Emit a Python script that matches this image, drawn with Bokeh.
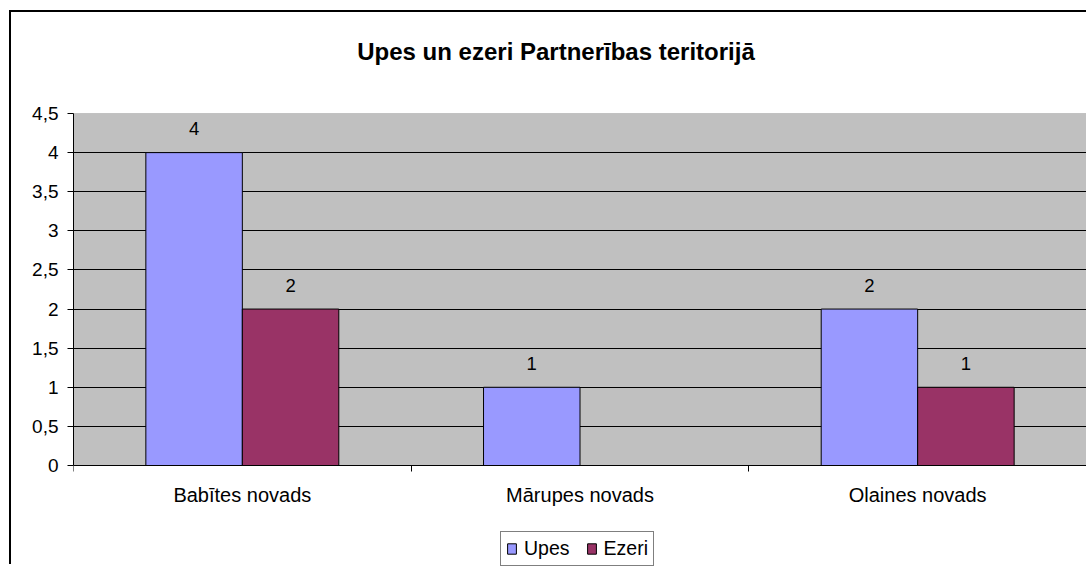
from bokeh.plotting import figure
from bokeh.models import ColumnDataSource, FixedTicker, Legend, LegendItem, BoxAnnotation, Label
from bokeh.core.properties import value
from bokeh.embed import file_html
from bokeh.resources import INLINE
import numpy as np

# ---- data ----
categories = ["Babītes novads", "Mārupes novads", "Olaines novads"]
upes = [4, 1, 2]
ezeri = [2, 0, 1]
series_names = ["Upes", "Ezeri"]
y_ticks = [0, 0.5, 1, 1.5, 2, 2.5, 3, 3.5, 4, 4.5]
y_tick_labels = ["0", "0,5", "1", "1,5", "2", "2,5", "3", "3,5", "4", "4,5"]
title_text = "Upes un ezeri Partnerības teritorijā"

FONT = "Liberation Sans"
C_UPES = "#9999FF"
C_EZERI = "#993366"

idx = np.arange(len(categories))
bw = 1 / 3.5
x_upes = idx + 0.5 - bw / 2
x_ezeri = idx + 0.5 + bw / 2

Y_MAX = y_ticks[-1]
# frame fills the canvas height; the value axis spans 352 px for 0..4.5,
# with 101 px of room below (categories, legend) and above (title)
pad = (101 / 352) * Y_MAX

p = figure(title=None, width=1077, height=554, x_range=(0, len(categories)),
           y_range=(-pad, Y_MAX + pad),
           output_backend="svg", toolbar_location=None,
           min_border_left=62, min_border_right=2, min_border_top=0, min_border_bottom=0)
p.styles = {"border-left": "2px solid black", "border-top": "2px solid black",
            "margin-left": "9px", "margin-top": "10px"}
p.background_fill_color = "white"
p.border_fill_color = "white"
p.outline_line_color = None

# grey plot area
p.add_layout(BoxAnnotation(left=0, right=len(categories), bottom=0, top=Y_MAX,
                           fill_color="#C0C0C0", fill_alpha=1, line_color="#808080",
                           line_width=1, level="image"))

# title
p.add_layout(Label(x=482.5, y=515, x_units="screen", y_units="screen", text=title_text,
                   text_align="center", text_baseline="middle", text_font=FONT,
                   text_font_size="24px", text_font_style="bold", text_color="black"))

src_u = ColumnDataSource(dict(x=x_upes, top=upes, lab=[str(v) if v else "" for v in upes]))
src_e = ColumnDataSource(dict(x=x_ezeri, top=ezeri, lab=[str(v) if v else "" for v in ezeri]))

r_u = p.vbar(x="x", top="top", width=bw, source=src_u, fill_color=C_UPES, line_color="black", line_width=1)
r_e = p.vbar(x="x", top="top", width=bw, source=src_e, fill_color=C_EZERI, line_color="black", line_width=1)

for s in (src_u, src_e):
    p.text(x="x", y="top", text="lab", source=s, text_align="center", text_baseline="alphabetic",
           y_offset=-24, text_font=value(FONT), text_font_size="18.5px", text_color="black")

# y axis
p.yaxis.bounds = (0, Y_MAX)
p.yaxis.ticker = FixedTicker(ticks=y_ticks)
p.yaxis.major_label_overrides = {t: l for t, l in zip(y_ticks, y_tick_labels)}
p.yaxis.major_label_text_font = FONT
p.yaxis.major_label_text_font_size = "19px"
p.yaxis.major_label_text_color = "black"
p.yaxis.major_label_standoff = 9
p.yaxis.major_tick_out = 6
p.yaxis.major_tick_in = 0
p.yaxis.minor_tick_line_color = None
p.yaxis.axis_line_color = "black"
p.yaxis.major_tick_line_color = "black"

# x axis: labels at category centres, tick marks at category boundaries
centers = list(idx + 0.5)
p.xaxis.fixed_location = 0
p.xaxis.ticker = FixedTicker(ticks=centers, minor_ticks=list(range(len(categories) + 1)))
p.xaxis.major_label_overrides = {c: n for c, n in zip(centers, categories)}
p.xaxis.major_tick_line_color = None
p.xaxis.major_tick_out = 0
p.xaxis.major_tick_in = 0
p.xaxis.minor_tick_out = 6
p.xaxis.minor_tick_in = 0
p.xaxis.minor_tick_line_color = "black"
p.xaxis.axis_line_color = "black"
p.xaxis.major_label_text_font = FONT
p.xaxis.major_label_text_font_size = "20px"
p.xaxis.major_label_text_color = "black"
p.xaxis.major_label_standoff = 12

p.xgrid.grid_line_color = None
p.ygrid.ticker = FixedTicker(ticks=[t for t in y_ticks if 0 < t < Y_MAX])
p.ygrid.grid_line_color = "black"
p.ygrid.grid_line_width = 1

legend = Legend(items=[LegendItem(label=series_names[0], renderers=[r_u]),
                       LegendItem(label=series_names[1], renderers=[r_e])],
                orientation="horizontal", location=(427, 0),
                glyph_width=11, glyph_height=13, label_standoff=7, spacing=16, padding=5,
                margin=0, border_line_color="black", border_line_width=1,
                label_text_font=FONT, label_text_font_size="19.5px", label_text_color="black",
                background_fill_color="white", background_fill_alpha=1)
p.add_layout(legend, "center")

open("out.html", "w").write(file_html(p, INLINE))
